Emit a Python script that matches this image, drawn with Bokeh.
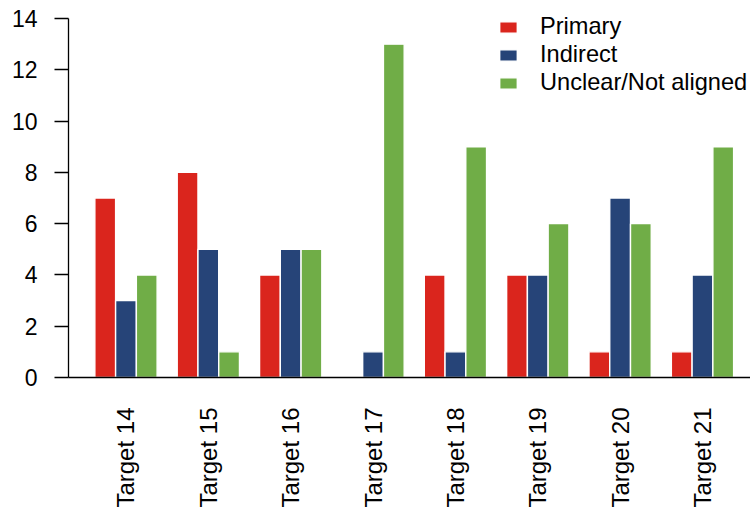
import math
from bokeh.plotting import figure
from bokeh.models import ColumnDataSource, Range1d, FixedTicker, Legend, LegendItem
from bokeh.transform import dodge
from bokeh.embed import file_html
from bokeh.resources import INLINE

targets = ["Target 14", "Target 15", "Target 16", "Target 17",
           "Target 18", "Target 19", "Target 20", "Target 21"]
primary = [7, 8, 4, 0, 4, 4, 1, 1]
indirect = [3, 5, 5, 1, 1, 4, 7, 4]
unclear = [4, 1, 5, 13, 9, 6, 6, 9]
series_names = ["Primary", "Indirect", "Unclear/Not aligned"]
series_keys = ["primary", "indirect", "unclear"]
colors = ["#DA251D", "#264478", "#70AD47"]
y_ticks = [0, 2, 4, 6, 8, 10, 12, 14]

xpos = list(range(1, len(targets) + 1))
src = ColumnDataSource(dict(x=xpos, primary=primary, indirect=indirect, unclear=unclear))

FONT = "Liberation Sans"

p = figure(width=750, height=514,
           x_range=Range1d(0.302, 8.583), y_range=Range1d(0, 14.702),
           output_backend="svg", toolbar_location=None,
           min_border_left=68, min_border_right=0,
           min_border_top=0, min_border_bottom=137)
p.outline_line_color = None
p.xgrid.grid_line_color = None
p.ygrid.grid_line_color = None
p.background_fill_color = "white"
p.border_fill_color = "white"

pitch = 0.252
offsets = [-pitch, 0.0, pitch]
renderers = []
for key, off, col in zip(series_keys, offsets, colors):
    r = p.vbar(x=dodge("x", off), top=key, width=pitch, bottom=0, source=src,
               fill_color=col, line_color="white", line_width=1.4)
    renderers.append(r)

# y axis (line only between the first and last tick)
p.yaxis.ticker = FixedTicker(ticks=y_ticks)
p.yaxis.bounds = (y_ticks[0], y_ticks[-1])
p.yaxis.axis_line_color = "black"
p.yaxis.axis_line_width = 1.3
p.yaxis.major_tick_line_color = "black"
p.yaxis.major_tick_line_width = 1.3
p.yaxis.major_tick_out = 14
p.yaxis.major_tick_in = 0
p.yaxis.minor_tick_line_color = None
p.yaxis.major_label_standoff = 17
p.yaxis.major_label_text_font = FONT
p.yaxis.major_label_text_font_size = "23px"
p.yaxis.major_label_text_color = "black"

# x axis
p.xaxis.ticker = FixedTicker(ticks=xpos)
p.xaxis.major_label_overrides = {x: t for x, t in zip(xpos, targets)}
p.xaxis.axis_line_color = "black"
p.xaxis.axis_line_width = 1.3
p.xaxis.major_tick_line_color = None
p.xaxis.major_tick_out = 0
p.xaxis.major_tick_in = 0
p.xaxis.minor_tick_line_color = None
p.xaxis.major_label_orientation = math.pi / 2
p.xaxis.major_label_standoff = 30
p.xaxis.major_label_text_font = FONT
p.xaxis.major_label_text_font_size = "24px"
p.xaxis.major_label_text_color = "black"

items = [LegendItem(label=n, renderers=[r]) for n, r in zip(series_names, renderers)]
legend = Legend(items=items, location=(429, 281), orientation="vertical",
                border_line_color=None, background_fill_alpha=0,
                glyph_width=22, glyph_height=14, label_standoff=21,
                label_text_font=FONT, label_text_font_size="23.6px",
                label_text_color="black",
                padding=0, margin=0, spacing=1)
p.add_layout(legend)

open("out.html", "w").write(file_html(p, INLINE))
